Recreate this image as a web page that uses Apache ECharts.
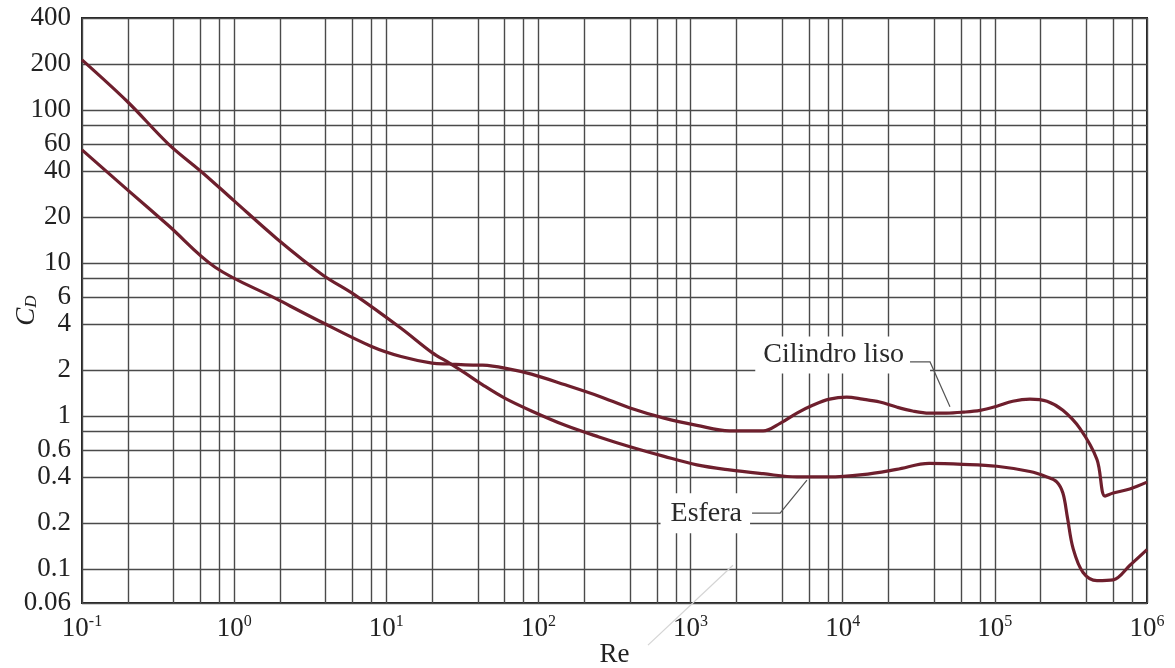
<!DOCTYPE html>
<html>
<head>
<meta charset="utf-8">
<title>CD vs Re</title>
<script src="https://cdn.jsdelivr.net/npm/echarts@6.0.0/dist/echarts.min.js"></script>
<style>
    html, body { margin: 0; padding: 0; background: #fff; }
    #main { width: 1175px; height: 668px; }
</style>
</head>
<body>
<div id="main"></div>
<script>
    // valores (Re, CD)
    var esferaRe = [0.1, 0.2, 0.37, 0.62, 1, 1.9, 3.8, 6.2, 12.5, 20, 26, 33, 43, 60, 90, 150, 250, 400, 670,
        1100, 1800, 3000, 5000, 8000, 13500, 22600, 37000, 61500, 103000, 170000, 220000, 255000,
        280000, 300000, 327000, 380000, 469000, 600000, 773000, 1000000];
    var esferaCd = [213, 113, 60, 39, 25.5, 14.5, 8.4, 6.2, 3.75, 2.6, 2.22, 1.91, 1.6, 1.31, 1.08, 0.87, 0.73, 0.63, 0.545,
        0.48, 0.445, 0.42, 0.40, 0.40, 0.414, 0.448, 0.49, 0.484, 0.47, 0.434, 0.40, 0.372,
        0.314, 0.217, 0.136, 0.095, 0.084, 0.085, 0.106, 0.134];

    var cilindroRe = [0.1, 0.2, 0.37, 0.75, 1.9, 3.6, 8, 12.5, 20, 26, 33, 43, 60, 90, 150, 250, 400, 670,
        1100, 1800, 3000, 3900, 5000, 6400, 8200, 10600, 13500, 17500, 22600, 28800, 37000, 48000,
        61500, 80000, 103000, 131000, 170000, 220000, 280000, 362000, 469000, 530000, 600000, 770000, 1000000];
    var cilindroCd = [55, 30, 17.6, 9.4, 5.83, 4.2, 2.85, 2.45, 2.22, 2.19, 2.16, 2.15, 2.06, 1.88, 1.6, 1.35, 1.13, 0.97,
        0.87, 0.80, 0.80, 0.90, 1.046, 1.18, 1.29, 1.33, 1.29, 1.235, 1.145, 1.08, 1.046, 1.046,
        1.06, 1.09, 1.16, 1.25, 1.29, 1.25, 1.09, 0.83, 0.52, 0.30, 0.314, 0.334, 0.37];

    // lineas de la reticula y etiquetas
    var xGrid = [0.1];
    var xLabels = [0.1, 1, 10, 100, 1000, 10000, 100000, 1000000];
    var xSteps = [2, 4, 6, 8, 10];
    for (var d = -1; d < 6; d++) {
        for (var k = 0; k < xSteps.length; k++) {
            xGrid.push(Number((xSteps[k] * Math.pow(10, d)).toPrecision(3)));
        }
    }
    var yGrid = [0.06, 0.1, 0.2, 0.4, 0.6, 0.8, 1, 2, 4, 6, 8, 10, 20, 40, 60, 80, 100, 200, 400];
    var yLabels = [0.06, 0.1, 0.2, 0.4, 0.6, 1, 2, 4, 6, 10, 20, 40, 60, 100, 200, 400];

    function zip(a, b) {
        var out = [];
        for (var i = 0; i < a.length; i++) out.push([a[i], b[i]]);
        return out;
    }

    var serif = '"Liberation Serif", "DejaVu Serif", serif';
    var curveColor = '#6e1f2d';
    var gridColor = '#4a4a4a';
    var textColor = '#222';

    var myChart = echarts.init(document.getElementById('main'));

    var option = {
        backgroundColor: '#fff',
        animation: false,
        grid: {
            left: 82,
            right: 28,
            top: 18,
            bottom: 65,
            outerBoundsMode: 'none',
            show: true,
            borderColor: '#222',
            borderWidth: 2
        },
        xAxis: {
            type: 'log',
            logBase: 10,
            min: 0.1,
            max: 1000000,
            name: 'Re',
            nameLocation: 'middle',
            nameGap: 38,
            nameMoveOverlap: false,
            nameTextStyle: {fontFamily: serif, fontSize: 27, color: textColor},
            axisLine: {show: false},
            axisTick: {show: false, customValues: xGrid},
            axisLabel: {
                customValues: xLabels,
                margin: 11,
                fontFamily: serif,
                fontSize: 27,
                lineHeight: 30,
                color: textColor,
                formatter: function (v) {
                    var e = Math.round(Math.log(v) / Math.LN10);
                    return '10{sup|' + e + '}';
                },
                rich: {
                    sup: {fontFamily: serif, fontSize: 16, verticalAlign: 'top', color: textColor}
                }
            },
            splitLine: {show: true, lineStyle: {color: gridColor, width: 1.4}}
        },
        yAxis: {
            type: 'log',
            logBase: 10,
            min: 0.06,
            max: 400,
            name: '{c|C}{d|D}',
            nameLocation: 'middle',
            nameGap: 42,
            nameMoveOverlap: false,
            nameTextStyle: {
                rich: {
                    c: {fontFamily: serif, fontStyle: 'italic', fontSize: 27, color: textColor},
                    d: {fontFamily: serif, fontStyle: 'italic', fontSize: 17, color: textColor, verticalAlign: 'bottom'}
                }
            },
            axisLine: {show: false},
            axisTick: {show: false, customValues: yGrid},
            axisLabel: {
                customValues: yLabels,
                margin: 11,
                fontFamily: serif,
                fontSize: 27,
                color: textColor,
                formatter: function (v) {
                    return String(Number(v.toPrecision(3)));
                }
            },
            splitLine: {show: true, lineStyle: {color: gridColor, width: 1.4}}
        },
        series: [
            {
                name: 'Esfera',
                type: 'line',
                data: zip(esferaRe, esferaCd),
                showSymbol: false,
                smooth: 0.35,
                lineStyle: {color: curveColor, width: 3.2},
                z: 5
            },
            {
                name: 'Cilindro liso',
                type: 'line',
                data: zip(cilindroRe, cilindroCd),
                showSymbol: false,
                smooth: 0.35,
                lineStyle: {color: curveColor, width: 3.2},
                z: 5
            }
        ]
    };
    myChart.setOption(option);

    // rotulos con sus lineas guia, puestos en coordenadas de datos
    function px(re, cd) {
        return myChart.convertToPixel({xAxisIndex: 0, yAxisIndex: 0}, [re, cd]);
    }
    var labelFont = '28px ' + serif;
    var cil = px(37500, 2.51);
    var esf = px(2460, 0.232);
    myChart.setOption({
        graphic: [
            {
                type: 'text', x: cil[0], y: cil[1], z: 100,
                style: {text: 'Cilindro liso', font: labelFont, fill: '#2a2a2a', align: 'right', verticalAlign: 'middle',
                    backgroundColor: '#fff', padding: [3, 26, 6, 8]}
            },
            {
                type: 'polyline', z: 101,
                shape: {points: [px(27700, 2.26), px(37500, 2.26), px(50700, 1.15)]},
                style: {stroke: '#555', lineWidth: 1.2, fill: null}
            },
            {
                type: 'text', x: esf[0], y: esf[1], z: 100,
                style: {text: 'Esfera', font: labelFont, fill: '#2a2a2a', align: 'right', verticalAlign: 'middle',
                    backgroundColor: '#fff', padding: [4, 8, 8, 10]}
            },
            {
                type: 'polyline', z: 101,
                shape: {points: [px(2535, 0.232), px(3875, 0.232), px(5820, 0.382)]},
                style: {stroke: '#555', lineWidth: 1.2, fill: null}
            },
            {
                // trazo tenue junto a Re
                type: 'line', z: 101,
                shape: (function () {
                    var a = px(525, 0.0318), b = px(1900, 0.106);
                    return {x1: a[0], y1: a[1], x2: b[0], y2: b[1]};
                })(),
                style: {stroke: '#d4d4d4', lineWidth: 1.2}
            }
        ]
    });
</script>
</body>
</html>
